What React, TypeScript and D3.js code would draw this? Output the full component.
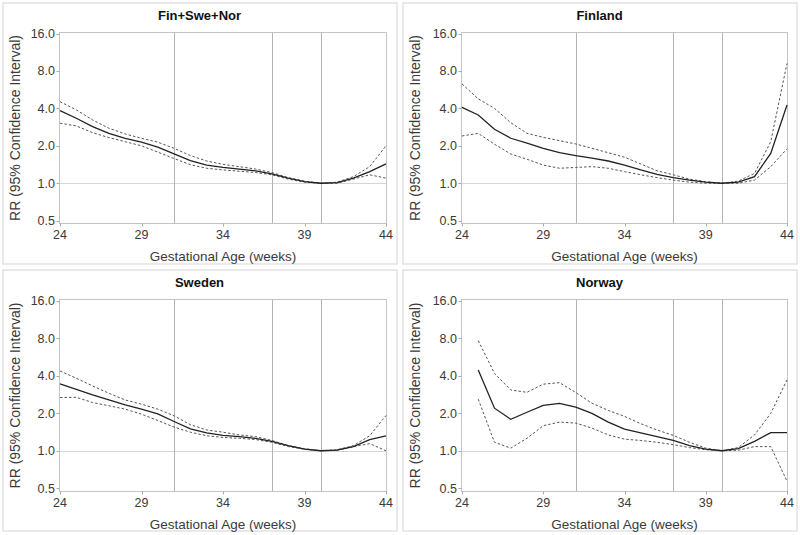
import React from "react";
import * as d3 from "d3";

const WEEKS = [24, 25, 26, 27, 28, 29, 30, 31, 32, 33, 34, 35, 36, 37, 38, 39, 40, 41, 42, 43, 44];

const ALL_EST = [3.84, 3.33, 2.85, 2.52, 2.30, 2.14, 1.95, 1.72, 1.52, 1.40, 1.34, 1.30, 1.26, 1.19, 1.10, 1.03, 1.0, 1.01, 1.10, 1.24, 1.43];
const ALL_UP = [4.53, 3.89, 3.23, 2.77, 2.49, 2.30, 2.14, 1.91, 1.67, 1.51, 1.42, 1.36, 1.30, 1.22, 1.11, 1.04, 1.0, 1.02, 1.13, 1.36, 2.0];
const ALL_LO = [3.04, 2.89, 2.55, 2.33, 2.16, 2.0, 1.78, 1.58, 1.41, 1.32, 1.28, 1.25, 1.22, 1.17, 1.08, 1.02, 1.0, 1.0, 1.08, 1.17, 1.10];

const FIN_EST = [4.08, 3.54, 2.72, 2.30, 2.10, 1.91, 1.76, 1.67, 1.59, 1.51, 1.40, 1.28, 1.18, 1.11, 1.06, 1.02, 1.0, 1.02, 1.13, 1.74, 4.26];
const FIN_UP = [6.29, 4.77, 4.0, 3.07, 2.52, 2.34, 2.20, 2.07, 1.91, 1.76, 1.62, 1.43, 1.26, 1.17, 1.08, 1.03, 1.0, 1.04, 1.20, 2.16, 9.2];
const FIN_LO = [2.40, 2.52, 2.06, 1.72, 1.56, 1.40, 1.32, 1.34, 1.36, 1.32, 1.24, 1.17, 1.11, 1.06, 1.02, 1.0, 1.0, 1.0, 1.06, 1.36, 1.89];

const SWE_EST = [3.45, 3.12, 2.81, 2.56, 2.34, 2.16, 1.98, 1.72, 1.50, 1.39, 1.33, 1.30, 1.26, 1.19, 1.10, 1.03, 1.0, 1.01, 1.08, 1.23, 1.32];
const SWE_UP = [4.38, 3.83, 3.32, 2.90, 2.56, 2.37, 2.16, 1.91, 1.62, 1.47, 1.41, 1.34, 1.30, 1.21, 1.10, 1.04, 1.0, 1.02, 1.10, 1.32, 1.92];
const SWE_LO = [2.68, 2.69, 2.44, 2.30, 2.16, 1.97, 1.75, 1.55, 1.41, 1.32, 1.28, 1.26, 1.23, 1.17, 1.08, 1.03, 1.0, 1.01, 1.08, 1.14, 1.0];

const NOR_EST = [null, 4.46, 2.20, 1.79, 2.04, 2.32, 2.40, 2.24, 2.0, 1.70, 1.49, 1.39, 1.30, 1.21, 1.10, 1.03, 1.0, 1.04, 1.19, 1.40, 1.40];
const NOR_UP = [null, 7.67, 4.19, 3.08, 2.95, 3.43, 3.53, 2.94, 2.41, 2.11, 1.89, 1.65, 1.47, 1.33, 1.17, 1.05, 1.0, 1.06, 1.34, 2.0, 3.71];
const NOR_LO = [null, 2.60, 1.17, 1.05, 1.26, 1.59, 1.70, 1.67, 1.52, 1.34, 1.24, 1.21, 1.17, 1.12, 1.06, 1.02, 1.0, 1.01, 1.08, 1.08, 0.57];

const TITLES = ["Fin+Swe+Nor", "Finland", "Sweden", "Norway"];
const X_TICKS = [24, 29, 34, 39, 44];
const Y_TICKS = [0.5, 1, 2, 4, 8, 16];
const Y_TICK_LABELS = ["0.5", "1.0", "2.0", "4.0", "8.0", "16.0"];
const REF_WEEKS = [31, 37, 40];
const REF_RR = 1;
const X_LABEL = "Gestational Age (weeks)";
const Y_LABEL = "RR (95% Confidence Interval)";

const FONT = "'Liberation Sans', Arial, sans-serif";
const TEXT = "#3a3a3a";

type PanelProps = {
  title: string;
  est: (number | null)[];
  up: (number | null)[];
  lo: (number | null)[];
  bx: number;
  by: number;
  xr: [number, number];
  yTop: number;
};

const snap = (v: number) => Math.round(v) + 0.5;

function Panel({ title, est, up, lo, bx, by, xr, yTop }: PanelProps) {
  const x = d3.scaleLinear().domain([24, 44]).range(xr);
  const y = d3.scaleLog().base(2).domain([0.5, 16]).range([yTop + 187.2, yTop]);
  const fl = snap(xr[0] - 1.5);
  const fr = snap(xr[1]);
  const ft = snap(yTop - 2);
  const fb = snap(yTop + 187.2 + 2.5);
  const mk = (vals: (number | null)[]) =>
    d3
      .line<number>()
      .defined((_, i) => vals[i] != null)
      .x((w) => x(w))
      .y((_, i) => y(vals[i] as number))(WEEKS) || "";
  const cx = (fl + fr) / 2;
  return (
    <g>
      <rect x={bx + 0.5} y={by + 0.5} width={394} height={261} fill="#fff" stroke="#d4d4d4" strokeWidth={1} />
      <text x={bx + 197} y={by + 17} textAnchor="middle" fontFamily={FONT} fontWeight="bold" fontSize={13} fill="#111">
        {title}
      </text>
      <rect x={fl} y={ft} width={fr - fl} height={fb - ft} fill="none" stroke="#c4c4c4" strokeWidth={1} />
      <line x1={fl} x2={fr} y1={snap(y(REF_RR))} y2={snap(y(REF_RR))} stroke="#d6d6d6" strokeWidth={1} />
      {REF_WEEKS.map((w) => (
        <line key={w} x1={snap(x(w))} x2={snap(x(w))} y1={ft} y2={fb} stroke="#b4b4b4" strokeWidth={1} />
      ))}
      {Y_TICKS.map((t, i) => (
        <g key={t}>
          <line x1={fl - 3} x2={fl} y1={snap(y(t))} y2={snap(y(t))} stroke="#aaa" />
          <text x={fl - 4.5} y={y(t)} dy="0.35em" textAnchor="end" fontFamily={FONT} fontSize={12.5} fill={TEXT}>
            {Y_TICK_LABELS[i]}
          </text>
        </g>
      ))}
      {X_TICKS.map((t) => (
        <g key={t}>
          <line x1={snap(x(t))} x2={snap(x(t))} y1={fb} y2={fb + 3} stroke="#aaa" />
          <text x={x(t)} y={fb + 15} textAnchor="middle" fontFamily={FONT} fontSize={12.5} fill={TEXT}>
            {t}
          </text>
        </g>
      ))}
      <text x={cx} y={fb + 37} textAnchor="middle" fontFamily={FONT} fontSize={13.5} fill={TEXT}>
        {X_LABEL}
      </text>
      <text
        transform={`translate(${bx + 17},${(ft + fb) / 2}) rotate(-90)`}
        textAnchor="middle"
        fontFamily={FONT}
        fontSize={14}
        fill={TEXT}
      >
        {Y_LABEL}
      </text>
      <path d={mk(up)} fill="none" stroke="#555" strokeWidth={1} strokeDasharray="2.5,2" />
      <path d={mk(lo)} fill="none" stroke="#555" strokeWidth={1} strokeDasharray="2.5,2" />
      <path d={mk(est)} fill="none" stroke="#222" strokeWidth={1.3} />
    </g>
  );
}

export default function App() {
  const panels = [
    { est: ALL_EST, up: ALL_UP, lo: ALL_LO, bx: 2.5, by: 2.5, xr: [60, 386] as [number, number], yTop: 33.5 },
    { est: FIN_EST, up: FIN_UP, lo: FIN_LO, bx: 402.5, by: 2.5, xr: [462, 787] as [number, number], yTop: 33.5 },
    { est: SWE_EST, up: SWE_UP, lo: SWE_LO, bx: 2.5, by: 269.5, xr: [60, 386] as [number, number], yTop: 301 },
    { est: NOR_EST, up: NOR_UP, lo: NOR_LO, bx: 402.5, by: 269.5, xr: [462, 787] as [number, number], yTop: 301 },
  ];
  return (
    <svg width={800} height={535} style={{ position: "absolute", left: 0, top: 0, background: "#fff" }}>
      {panels.map((p, i) => (
        <Panel key={i} title={TITLES[i]} {...p} />
      ))}
    </svg>
  );
}
